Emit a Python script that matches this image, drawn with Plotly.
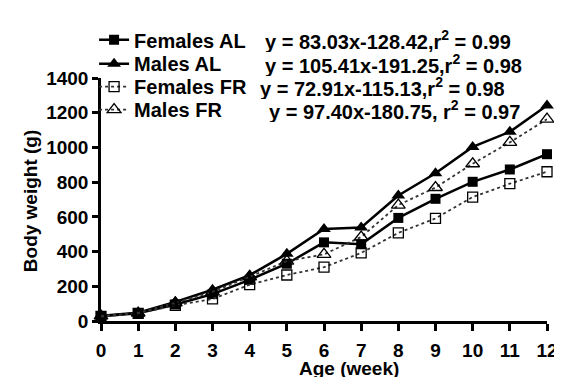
import plotly.graph_objects as go

weeks = [0, 1, 2, 3, 4, 5, 6, 7, 8, 9, 10, 11, 12]
females_al = [28, 45, 95, 155, 237, 330, 453, 442, 594, 704, 802, 873, 961]
males_al = [30, 48, 110, 180, 264, 387, 530, 539, 723, 851, 1003, 1090, 1242]
females_fr = [26, 44, 90, 127, 209, 265, 310, 392, 508, 591, 714, 791, 860]
males_fr = [29, 46, 105, 168, 255, 345, 384, 484, 668, 769, 906, 1029, 1163]

series_names = ["Females AL", "Males AL", "Females FR", "Males FR"]
equations = [
    "y = 83.03x-128.42,r<sup>2</sup> = 0.99",
    "y = 105.41x-191.25,r<sup>2</sup> = 0.98",
    "y = 72.91x-115.13,r<sup>2</sup> = 0.98",
    "y = 97.40x-180.75, r<sup>2</sup> = 0.97",
]
y_ticks = [0, 200, 400, 600, 800, 1000, 1200, 1400]

FONT = "Liberation Sans, Arial, sans-serif"
W, H = 562, 377
L, R, T, B = 93, 18, 59, 64
PW, PH = W - L - R, H - T - B


def px_x(p):
    return (p - L) / PW


def px_y(p):
    return 1 - (p - T) / PH


fig = go.Figure()
styles = [
    (females_al, dict(symbol="square", size=10, color="black"),
     dict(color="black", width=2.5)),
    (males_al, dict(symbol="triangle-up", size=12, color="black"),
     dict(color="black", width=2.5)),
    (females_fr, dict(symbol="square-open", size=10, color="black", line=dict(width=1.3)),
     dict(color="#333", width=1.8, dash="dot")),
    (males_fr, dict(symbol="triangle-up-open", size=12, color="black", line=dict(width=1.3)),
     dict(color="#333", width=1.8, dash="dot")),
]
legend_ids = ["legend", "legend2", "legend3", "legend4"]
for name, (vals, mk, ln), lid in zip(series_names, styles, legend_ids):
    fig.add_trace(go.Scatter(x=weeks, y=vals, name=name, mode="lines+markers",
                             marker=mk, line=ln, cliponaxis=False, legend=lid))

row_y = [19, 44, 68, 92]
eq_x = [257, 257, 252, 261]
for eq, yy, xx in zip(equations, row_y, eq_x):
    fig.add_annotation(text=eq, x=px_x(xx), y=px_y(yy), xref="paper", yref="paper",
                       xanchor="left", yanchor="middle", showarrow=False, height=24,
                       font=dict(family=FONT, size=20, color="black", weight="bold"))

fig.add_annotation(text="Age (week)", x=px_x(344), y=px_y(362), xref="paper", yref="paper",
                   xanchor="center", yanchor="middle", showarrow=False, height=22,
                   font=dict(family=FONT, size=19, color="black", weight="bold"))
fig.add_annotation(text="Body weight (g)", x=px_x(22), y=px_y(188), xref="paper", yref="paper",
                   xanchor="center", yanchor="middle", showarrow=False, textangle=-90,
                   font=dict(family=FONT, size=19, color="black", weight="bold"))

legend_common = dict(xanchor="left", yanchor="middle",
                     font=dict(family=FONT, size=20, color="black", weight="bold"),
                     bgcolor="rgba(0,0,0,0)", borderwidth=0, itemwidth=30)
layout_legends = {}
for lid, yy in zip(legend_ids, row_y):
    layout_legends[lid] = dict(x=px_x(86), y=px_y(yy), **legend_common)

fig.update_layout(
    width=W, height=H,
    margin=dict(l=L, r=R, t=T, b=B),
    paper_bgcolor="white", plot_bgcolor="white",
    font=dict(family=FONT, size=19, color="black", weight="bold"),
    showlegend=True,
    **layout_legends,
)
fig.update_xaxes(range=[0, 12], tickvals=weeks, showgrid=False, zeroline=False,
                 showline=True, linecolor="black", linewidth=2.5,
                 ticks="outside", ticklen=7, tickwidth=2.5, tickcolor="black",
                 ticklabelstandoff=3,
                 tickfont=dict(family=FONT, size=19, color="black", weight="bold"))
fig.update_yaxes(range=[0, 1400], tickvals=y_ticks, showgrid=False, zeroline=False,
                 showline=True, linecolor="black", linewidth=2.5,
                 ticks="outside", ticklen=6, tickwidth=2.5, tickcolor="black",
                 tickfont=dict(family=FONT, size=19, color="black", weight="bold"))

fig.write_html("out.html")
